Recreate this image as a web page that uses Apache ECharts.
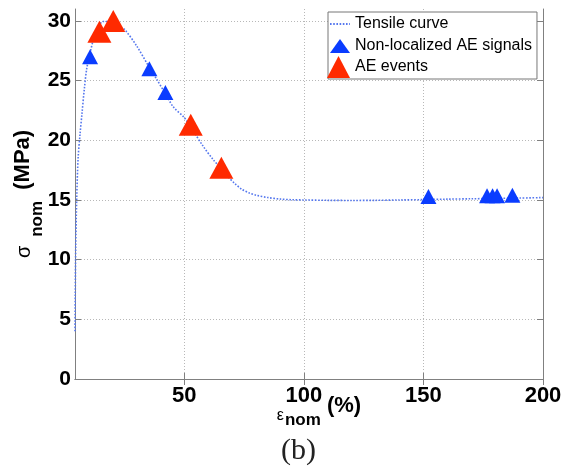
<!DOCTYPE html>
<html>
<head>
<meta charset="utf-8">
<script src="https://cdn.jsdelivr.net/npm/echarts@6/dist/echarts.min.js"></script>
<style>
html,body{margin:0;padding:0;background:#fff;}
#chart{width:562px;height:467px;}
</style>
</head>
<body>
<div id="chart"></div>
<script>
// ---- data ----
const xTicks = [50, 100, 150, 200];
const yTicks = [0, 5, 10, 15, 20, 25, 30];
const xRange = [4.3, 200];
const yRange = [0, 31];

const curveX = [4.3, 4.4, 4.6, 5.0, 5.6, 6.4, 7.2, 8.2, 9.2, 10.6, 12.2, 14.0, 16.0, 18.0, 20.3, 23.0, 25.2, 30.1, 35.4, 38.5, 42.1, 45.4, 50, 52.7, 57.9, 62, 65.5, 68.5, 71, 74, 77, 80, 85, 90, 95, 100, 110, 120, 130, 140, 150, 160, 170, 180, 190, 200];
const curveY = [4.0, 7.0, 11.0, 15.0, 18.5, 20.5, 22.2, 24.3, 26.0, 27.3, 28.6, 29.5, 29.95, 29.95, 29.8, 29.5, 29.25, 27.9, 26.1, 25.1, 23.9, 22.8, 21.9, 21.1, 19.5, 18.4, 17.6, 16.9, 16.4, 15.9, 15.6, 15.4, 15.2, 15.08, 15.02, 15.0, 14.97, 14.96, 14.97, 15.0, 15.03, 15.07, 15.1, 15.13, 15.16, 15.2];

const blueX = [10.6, 35.4, 42.1, 152.1, 176.6, 178.9, 180.8, 187.2];
const blueY = [27.0, 26.0, 24.0, 15.3, 15.35, 15.35, 15.35, 15.4];

const redX = [14.5, 20.3, 52.7, 65.5];
const redY = [29.1, 30.0, 21.3, 17.7];

const seriesNames = ['Tensile curve', 'Non-localized AE signals', 'AE events'];

// ---- chart ----
const zip = (xs, ys) => xs.map((x, i) => [x, ys[i]]);
const FONT = 'Liberation Sans';
const gridLine = { show: true, lineStyle: { color: '#b8b8b8', type: [1, 2], width: 1 } };
const axisCol = '#808080';
const curveCol = '#5577ee';

const chart = echarts.init(document.getElementById('chart'), null, { renderer: 'canvas' });
chart.setOption({
  animation: false,
  backgroundColor: '#fff',
  title: {
    text: '(b)', left: 276, top: 431,
    textStyle: { fontFamily: 'Liberation Serif', fontSize: 30, fontWeight: 'normal', color: '#222' }
  },
  grid: { left: 75, right: 19, top: 9, bottom: 88, outerBoundsMode: 'none', containLabel: false },
  xAxis: [{
    type: 'value', min: xRange[0], max: xRange[1], position: 'bottom',
    axisLine: { show: true, lineStyle: { color: axisCol, width: 1 } },
    axisTick: { show: true, inside: true, length: 6, customValues: xTicks, lineStyle: { color: axisCol } },
    axisLabel: { customValues: xTicks, margin: 6, color: '#000', fontFamily: FONT, fontWeight: 'bold', fontSize: 22 },
    splitLine: gridLine,
    name: '{e|ε}{n|nom}{p| (%)}', nameLocation: 'middle', nameGap: 16, nameMoveOverlap: false,
    nameTextStyle: {
      padding: [0, 0, 0, 20],
      rich: {
        e: { fontFamily: FONT, fontSize: 16, color: '#000', verticalAlign: 'bottom', padding: [0, 1, 5, 0] },
        n: { fontFamily: FONT, fontSize: 17, fontWeight: 'bold', color: '#000', verticalAlign: 'bottom' },
        p: { fontFamily: FONT, fontSize: 22, fontWeight: 'bold', color: '#000', verticalAlign: 'bottom', padding: [0, 0, 12, 0] }
      }
    }
  }, {
    type: 'value', min: xRange[0], max: xRange[1], position: 'top',
    axisLine: { show: true, lineStyle: { color: axisCol, width: 1 } },
    axisTick: { show: true, inside: true, length: 6, customValues: xTicks, lineStyle: { color: axisCol } },
    axisLabel: { show: false }, splitLine: { show: false }
  }],
  yAxis: [{
    type: 'value', min: yRange[0], max: yRange[1], position: 'left',
    axisLine: { show: true, lineStyle: { color: axisCol, width: 1 } },
    axisTick: { show: true, inside: true, length: 6, customValues: yTicks, lineStyle: { color: axisCol } },
    axisLabel: { customValues: yTicks, margin: 4, color: '#000', fontFamily: FONT, fontWeight: 'bold', fontSize: 21 },
    splitLine: gridLine,
    name: '{s|σ}{n|nom}{p| (MPa)}', nameLocation: 'middle', nameGap: 29, nameMoveOverlap: false,
    nameTextStyle: {
      rich: {
        s: { fontFamily: FONT, fontSize: 20, color: '#000', verticalAlign: 'bottom', padding: [0, 9, 12, 0] },
        n: { fontFamily: FONT, fontSize: 17, fontWeight: 'bold', color: '#000', verticalAlign: 'bottom', padding: [0, 5, 0, 0] },
        p: { fontFamily: FONT, fontSize: 22, fontWeight: 'bold', color: '#000', verticalAlign: 'bottom', padding: [0, 0, 12, 0] }
      }
    }
  }, {
    type: 'value', min: yRange[0], max: yRange[1], position: 'right',
    axisLine: { show: true, lineStyle: { color: axisCol, width: 1 } },
    axisTick: { show: true, inside: true, length: 6, customValues: yTicks, lineStyle: { color: axisCol } },
    axisLabel: { show: false }, splitLine: { show: false }
  }],
  legend: [{
    data: [
      { name: seriesNames[0], itemStyle: { color: 'rgba(0,0,0,0)', borderColor: 'rgba(0,0,0,0)', borderWidth: 0 } },
      { name: seriesNames[1] }
    ],
    orient: 'vertical', left: 328, top: 12,
    itemWidth: 20, itemHeight: 14, itemGap: 6,
    padding: [4, 5, 25, 1],
    backgroundColor: '#fff', borderColor: '#777', borderWidth: 1,
    textStyle: { fontFamily: FONT, fontSize: 16, color: '#000' },
    z: 5
  }, {
    data: [seriesNames[2]],
    orient: 'vertical', left: 327, top: 56,
    itemWidth: 23, itemHeight: 22, padding: 0,
    textStyle: { fontFamily: FONT, fontSize: 16, color: '#000' },
    z: 6
  }],
  series: [{
    name: seriesNames[0], type: 'line', data: zip(curveX, curveY),
    symbol: 'none', smooth: 0.3, clip: true,
    lineStyle: { color: curveCol, width: 1.6, type: [1.6, 1.6] },
    itemStyle: { color: curveCol }, z: 2
  }, {
    name: seriesNames[1], type: 'scatter', data: zip(blueX, blueY),
    symbol: 'triangle', symbolSize: [16, 15],
    itemStyle: { color: '#0a3cff', opacity: 1 }, z: 3
  }, {
    name: seriesNames[2], type: 'scatter', data: zip(redX, redY),
    symbol: 'triangle', symbolSize: [24, 22],
    itemStyle: { color: '#ff2a00', opacity: 1 }, z: 4
  }]
});
</script>
</body>
</html>
